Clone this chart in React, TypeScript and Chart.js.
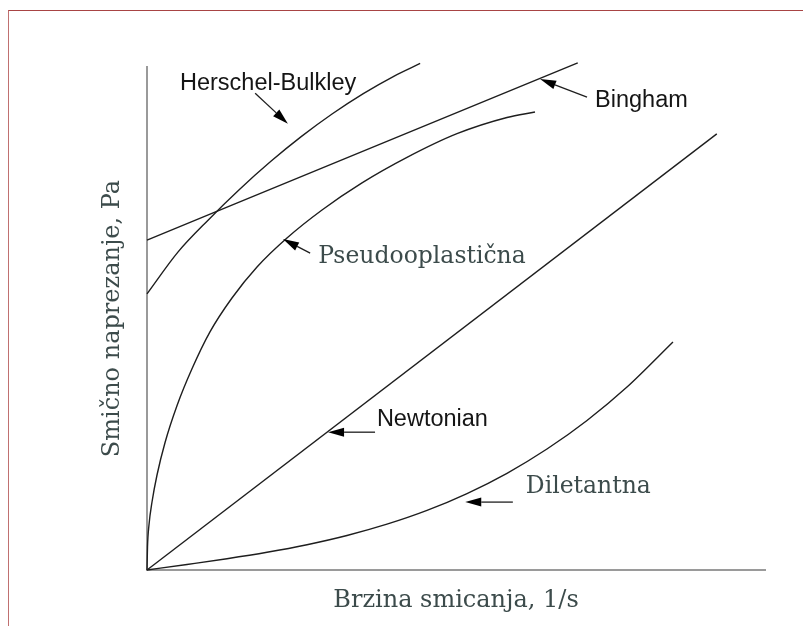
import React, { useEffect, useRef } from "react";
import { Chart, registerables } from "chart.js";

Chart.register(...registerables);

// ---- data (shear rate x, shear stress y; arbitrary units 0..100) ----
const newtonianX = [0, 92.2];
const newtonianY = [0, 86.7];

const binghamX = [0, 69.7];
const binghamY = [65.6, 100.8];

const herschelX = [0, 5, 10, 15, 20, 25, 30, 35, 40, 44.2];
const herschelY = [54.9, 63.2, 69.7, 75.7, 81.2, 86.2, 90.7, 94.7, 98.2, 100.7];

const pseudoX = [0, 0.08, 0.32, 0.81, 1.62, 2.91, 4.85, 7.28, 10.19, 13.75, 17.8, 22.65, 28.32, 34.79, 42.07, 50.16, 58.25, 62.78];
const pseudoY = [0, 4.57, 8.95, 13.52, 18.89, 25.31, 32.66, 40.0, 47.34, 54.08, 60.24, 66.0, 71.57, 76.96, 82.03, 86.74, 89.96, 91.05];

const dilatantX = [0, 6.47, 12.94, 19.42, 25.89, 32.36, 38.83, 45.31, 51.78, 58.25, 64.72, 71.2, 77.67, 85.11];
const dilatantY = [0, 1.1, 2.24, 3.52, 5.03, 6.86, 9.11, 11.85, 15.2, 19.23, 24.05, 29.73, 36.37, 45.33];

// ---- annotations ----
const labelTexts = ["Herschel-Bulkley", "Bingham", "Pseudooplastična", "Newtonian", "Diletantna"];
const labelSerif = [false, false, true, false, true];
const labelX = [5.34, 72.5, 27.7, 37.2, 61.3];
const labelY = [96.8, 93.4, 62.2, 29.9, 16.5];
const arrowTailX = [17.5, 71.2, 26.4, 36.9, 59.2];
const arrowTailY = [94.8, 94.0, 63.0, 27.4, 13.5];
const arrowHeadX = [22.8, 63.6, 22.0, 29.3, 51.5];
const arrowHeadY = [88.7, 97.6, 65.8, 27.4, 13.5];

const xTitle = "Brzina smicanja, 1/s";
const yTitle = "Smično naprezanje, Pa";

const SERIF = "'DejaVu Serif', serif";
const SANS = "'Liberation Sans', Arial, sans-serif";
const SERIF_COLOR = "#3c4b4b";
const SANS_COLOR = "#151515";
const CURVE_COLOR = "#1e1e1e";

const pts = (xs: number[], ys: number[]) => xs.map((x, i) => ({ x, y: ys[i] }));

const annotationPlugin = {
  id: "rheoAnnotations",
  afterDatasetsDraw(chart: any) {
    const { ctx, scales } = chart;
    const sx = scales.x;
    const sy = scales.y;
    ctx.save();
    for (let i = 0; i < labelTexts.length; i++) {
      const tx = sx.getPixelForValue(arrowTailX[i]);
      const ty = sy.getPixelForValue(arrowTailY[i]);
      const hx = sx.getPixelForValue(arrowHeadX[i]);
      const hy = sy.getPixelForValue(arrowHeadY[i]);
      const ang = Math.atan2(hy - ty, hx - tx);
      const len = 16;
      const half = 4.5;
      const bx = hx - len * Math.cos(ang);
      const by = hy - len * Math.sin(ang);
      ctx.strokeStyle = CURVE_COLOR;
      ctx.lineWidth = 1.3;
      ctx.beginPath();
      ctx.moveTo(tx, ty);
      ctx.lineTo(bx, by);
      ctx.stroke();
      ctx.fillStyle = "#000";
      ctx.beginPath();
      ctx.moveTo(hx, hy);
      ctx.lineTo(bx + half * Math.sin(ang), by - half * Math.cos(ang));
      ctx.lineTo(bx - half * Math.sin(ang), by + half * Math.cos(ang));
      ctx.closePath();
      ctx.fill();
      const serif = labelSerif[i];
      ctx.font = serif ? `23.5px ${SERIF}` : `23.5px ${SANS}`;
      ctx.fillStyle = serif ? SERIF_COLOR : SANS_COLOR;
      ctx.textAlign = "left";
      ctx.textBaseline = "middle";
      ctx.fillText(labelTexts[i], sx.getPixelForValue(labelX[i]), sy.getPixelForValue(labelY[i]));
    }
    ctx.restore();
  },
};

export default function App() {
  const ref = useRef<HTMLCanvasElement | null>(null);

  useEffect(() => {
    if (!ref.current) return;
    const ds = (xs: number[], ys: number[]) => ({
      data: pts(xs, ys),
      borderColor: CURVE_COLOR,
      borderWidth: 1.4,
      pointRadius: 0,
      showLine: true,
      fill: false,
      clip: false as any,
      cubicInterpolationMode: "monotone" as const,
    });
    const chart = new Chart(ref.current, {
      type: "scatter",
      data: {
        datasets: [
          ds(newtonianX, newtonianY),
          ds(binghamX, binghamY),
          ds(herschelX, herschelY),
          ds(pseudoX, pseudoY),
          ds(dilatantX, dilatantY),
        ],
      },
      options: {
        animation: false,
        responsive: false,
        layout: { padding: { left: 98.6, top: 67, right: 38, bottom: 10.6 } },
        plugins: { legend: { display: false }, tooltip: { enabled: false } },
        scales: {
          x: {
            type: "linear",
            min: 0,
            max: 100,
            ticks: { display: false },
            grid: { display: false, drawTicks: false },
            border: { display: true, color: "#9a9a9a", width: 2 },
            title: {
              display: true,
              text: xTitle,
              color: SERIF_COLOR,
              font: { family: SERIF, size: 24 },
              padding: { top: 16.6, bottom: 0 },
            },
          },
          y: {
            type: "linear",
            min: 0,
            max: 100,
            ticks: { display: false },
            grid: { display: false, drawTicks: false },
            border: { display: true, color: "#9a9a9a", width: 2 },
            title: {
              display: true,
              text: yTitle,
              color: SERIF_COLOR,
              font: { family: SERIF, size: 24 },
              padding: { top: 0, bottom: 19.6 },
            },
          },
        },
      },
      plugins: [annotationPlugin],
    });
    return () => chart.destroy();
  }, []);

  return (
    <div style={{ position: "fixed", left: 0, top: 0, width: 803, height: 626, background: "#fff" }}>
      <canvas ref={ref} width={803} height={626} style={{ position: "absolute", left: 0, top: 0 }} />
      <div
        style={{
          position: "absolute",
          left: 8,
          top: 10,
          right: 0,
          bottom: 0,
          borderTop: "1.5px solid #a84444",
          borderLeft: "1.5px solid #c07070",
          pointerEvents: "none",
        }}
      />
    </div>
  );
}
